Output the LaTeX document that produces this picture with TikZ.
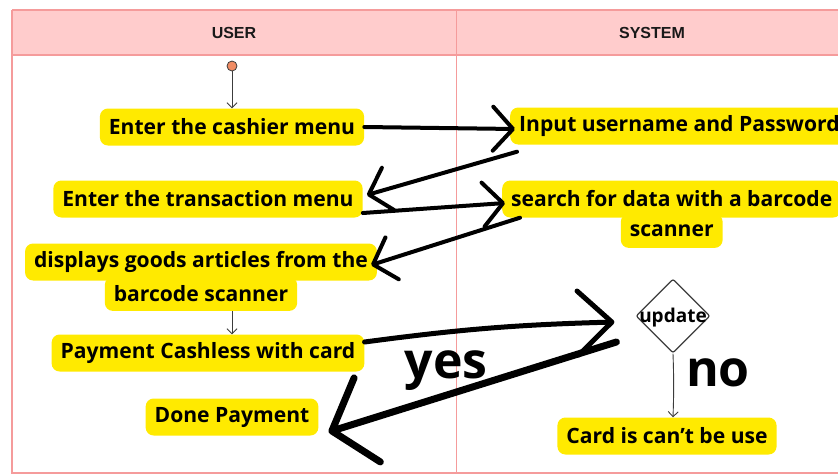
\documentclass[tikz,border=0pt]{standalone}
\usepackage{fontspec}
\setmainfont{Open Sans}
\newfontfamily\headfont{Liberation Sans}
\usetikzlibrary{shapes.geometric,arrows.meta,positioning}

\definecolor{lanepink}{RGB}{255,204,204}
\definecolor{laneline}{RGB}{245,155,155}
\definecolor{boxyellow}{RGB}{255,234,0}
\definecolor{startorange}{RGB}{240,140,100}
\definecolor{thinline}{RGB}{60,60,60}

\begin{document}
\begin{tikzpicture}[
    x=1pt, y=-1pt,
    action/.style={rectangle, rounded corners=8pt, fill=boxyellow, inner xsep=9pt, inner ysep=0pt, minimum height=37pt, font=\fontsize{21.1}{25}\selectfont\bfseries, text=black},
    decision/.style={diamond, draw=thinline, line width=1.2pt, minimum width=74pt, minimum height=74pt, inner sep=0pt, rounded corners=2pt},
    lanehead/.style={font=\headfont\fontsize{16}{19}\selectfont\bfseries, text=black!90},
    flow/.style={draw=thinline, line width=0.9pt, -{Straight Barb[length=5pt,width=10pt]}},
    brush/.style={line width=4pt, line cap=round, -{Straight Barb[round,length=20pt,width=44pt]}},
    big/.style={font=\fontsize{50}{50}\selectfont\bfseries, inner sep=0pt}
]
\useasboundingbox (0,0) rectangle (838,475);

% Swimlanes
\fill[lanepink] (12,10) rectangle (850,55);
\draw[laneline, line width=1.5pt] (12,10) -- (850,10) (12,55) -- (850,55);
\draw[laneline, line width=1.5pt] (12,10) -- (12,473) -- (850,473);
\draw[laneline, line width=0.8pt] (456,10) -- (456,473);
\node[lanehead] (userLane) at (234,33) {USER};
\node[lanehead] (systemLane) at (652,33) {SYSTEM};

% User side
\node[circle, draw=thinline, fill=startorange, line width=0.8pt, minimum size=10pt, inner sep=0pt] (start) at (232,66) {};
\node[action] (cashier) at (232,127) {Enter the cashier menu};
\node[action] (transaction) at (208,199) {Enter the transaction menu};
\node[action] (displaysA) at (201,262) {displays goods articles from the};
\node[action, minimum height=34pt, below=-4pt of displaysA] (displaysB) {barcode scanner};
\node[action] (payment) at (208,353) {Payment Cashless with card};
\node[action] (done) at (232,417) {Done Payment};

% System side
\node[action, anchor=west] (input) at (510,126) {Input username and Password};
\node[action, anchor=west] (searchA) at (502,199) {search for data with a barcode};
\node[action, minimum height=34pt, below=-4pt of searchA] (searchB) {scanner};
\node[decision, label={[font=\fontsize{19}{20}\selectfont\bfseries, yshift=-2pt]center:update}] (update) at (673,316) {};
\node[action] (card) at (667,436) {Card is can’t be use};

% Thin arrows
\draw[flow] (start) -- (cashier);
\draw[flow] (displaysB.south -| cashier) -- (payment.north -| cashier);
\draw[flow] (update.south) to[bend left=2] (update.south |- card.north);

% Brush arrows
\draw[brush] (cashier.east) -- ([xshift=5pt, yshift=-3pt]input.west);
\draw[brush] ([shift={(7,7)}]input.south west) -- ([shift={(4,-4)}]transaction.east);
\draw[brush] ([yshift=-14pt]transaction.east) -- ([shift={(3,4)}]searchA.west);
\draw[brush] ([xshift=18pt]searchA.south west) -- ([shift={(-6,3)}]displaysA.east);
\draw[brush, line width=5pt, -{Straight Barb[round,length=34pt,width=64pt]}] ([yshift=11pt]payment.east) to[bend left=3] ([shift={(-21,6)}]update.west);
\draw[brush, line width=7pt, -{Straight Barb[round,length=37pt,width=88pt]}] ([shift={(-19,26)}]update.west) -- ([shift={(10,15)}]done.east);

% Branch labels
\node[big, anchor=base] (yesLabel) at (446,378) {yes};
\node[big, anchor=base] (noLabel) at (718,386) {no};
\end{tikzpicture}
\end{document}
